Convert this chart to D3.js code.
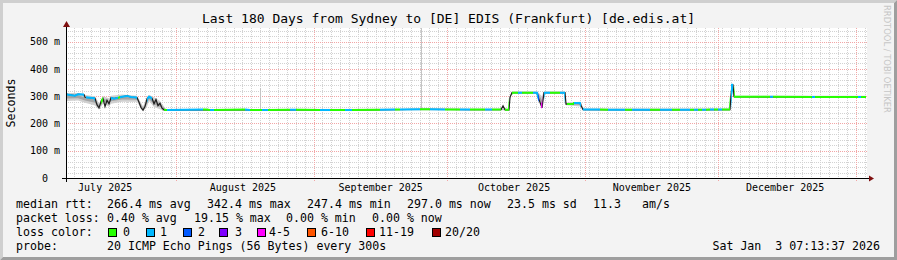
<!DOCTYPE html>
<html>
<head>
<meta charset="utf-8">
<script src="https://cdn.jsdelivr.net/npm/d3@7/dist/d3.min.js"></script>
<style>
  body { margin: 0; background: #f3f3f3; }
  svg { display: block; }
  text { font-family: "DejaVu Sans Mono", monospace; fill: #000; }
</style>
</head>
<body>
<script>
// values
var title = 'Last 180 Days from Sydney to [DE] EDIS (Frankfurt) [de.edis.at]'
var yTicks = [0, 100, 200, 300, 400, 500]
var yTickLabels = ['0', '100 m', '200 m', '300 m', '400 m', '500 m']
var monthLabels = ['July 2025', 'August 2025', 'September 2025', 'October 2025', 'November 2025', 'December 2025']

// median rtt in ms, at days since the start of the 180 day window
var medDays = [0, 2.0, 2.7, 4.05, 4.28, 6.53, 6.98, 7.43, 7.88, 8.33, 8.78, 9.23, 9.68, 10.13, 10.8, 12.6, 13.73, 14.63, 15.98,
  16.43, 16.88, 17.33, 17.78, 18.23, 18.68, 19.35, 19.8, 20.25, 20.7, 21.15, 21.6, 22.05, 22.5, 31.5, 32.85, 40.28, 41.63,
  52.65, 63.9, 81.45, 90.9, 97.88, 98.33, 98.78, 99.68, 99.9, 100.35, 105.98, 106.2, 106.65, 107.1, 107.55, 112.28, 112.5,
  114.08, 114.3, 115.65, 115.88, 116.33, 131.4, 149.4, 149.63, 149.85, 150.08, 150.3, 180]
var medMs = [307, 302, 307, 306, 296, 292, 268, 257, 280, 291, 262, 285, 272, 294, 291, 298, 301, 297, 295,
  278, 258, 249, 262, 290, 298, 293, 272, 288, 265, 274, 256, 250, 249, 251, 249, 251, 249,
  250, 249, 252, 251, 251, 265, 250, 250, 296, 313, 313, 298, 278, 257, 313, 313, 271,
  271, 275, 275, 266, 251, 250, 251, 304, 342, 342, 298, 297]

// loss colour runs: start day of each run and its loss bucket (null = only the dark median shows)
var lossDays = [0, 4.05, 4.5, 6.53, 7.88, 8.33, 10.13, 11.7, 12.15, 15.98, 18.23, 19.35, 22.05, 22.73, 30.83, 32.4, 33.3,
  40.28, 41.4, 44.1, 45.45, 50.4, 51.75, 57.15, 59.4, 62.78, 64.35, 70.65, 74.03, 75.15, 79.65, 81.9, 85.28, 88.65, 90.9,
  94.28, 95.85, 97.88, 98.78, 99.68, 100.35, 101.7, 102.6, 105.08, 106.2, 106.45, 106.9, 107.15, 107.55, 108.9, 111.15, 112.28,
  112.73, 114.3, 115.88, 116.33, 120.15, 121.95, 125.78, 127.35, 131.4, 133.65, 136.35, 138.15, 140.4, 141.3, 142.2,
  143.1, 144.0, 144.9, 145.8, 146.7, 147.6, 149.4, 149.63, 150.08, 150.3, 158.4, 159.08, 167.85, 168.53, 178.2, 178.88]
var lossBucket = [1, null, 1, null, 0, null, 1, 0, 1, null, 1, null, 0, 1, 0, 1, 0,
  1, 0, 1, 0, 1, 0, 1, 0, 1, 0, 1, 0, 1, 0, 1, 0, 1, 0,
  1, 0, null, 0, null, 0, 1, 0, 1, 2, null, 4, null, 1, 0, 1, null,
  0, 1, null, 1, 0, 1, 0, 1, 0, 1, 0, 1, 0, 1, 0,
  1, 0, 1, 0, 1, 0, null, 1, null, 0, 1, 0, 1, 0, 1, 0]

// smoke (spread of the 20 pings), ms
var smokeDays = [0, 2.7, 4.28, 6.53, 7.43, 8.33, 9.68, 10.13, 12.6, 15.98, 16.88, 17.33, 18.23, 18.68, 19.8, 21.15, 22.05,
  22.5, 97.88, 99.68, 99.9, 100.35, 105.98, 107.1, 107.55, 112.28, 112.5, 115.88, 116.33, 149.4, 149.63, 149.85, 150.3, 180]
var smokeLo = [282, 284, 276, 266, 250, 272, 262, 272, 280, 280, 255, 244, 262, 282, 260, 252, 246,
  247, 248, 248, 290, 309, 309, 254, 309, 309, 267, 262, 248, 248, 300, 338, 294, 294]
var smokeHi = [312, 312, 304, 300, 274, 300, 292, 302, 306, 302, 276, 262, 298, 305, 296, 282, 262,
  253, 254, 254, 300, 318, 318, 300, 318, 318, 277, 280, 255, 255, 310, 346, 302, 302]
var spikeDays = [43.65, 79.88]
var spikeMs = [330, 600]

var lossLabels = ['0', '1', '2', '3', '4-5', '6-10', '11-19', '20/20']
var lossColors = ['#26ff00', '#00b8ff', '#0059ff', '#7e00ff', '#ff00ff', '#ff5500', '#ff0000', '#a10000']

var rttStats = ['266.4 ms avg', '342.4 ms max', '247.4 ms min', '297.0 ms now', '23.5 ms sd', '11.3', 'am/s']
var lossStats = ['0.40 % avg', '19.15 % max', '0.00 % min', '0.00 % now']
var probeText = '20 ICMP Echo Pings (56 Bytes) every 300s'
var stamp = 'Sat Jan  3 07:13:37 2026'

var W = 897, H = 260
var svg = d3.select('body').append('svg').attr('width', W).attr('height', H)

// background + shaded frame
svg.append('rect').attr('width', W).attr('height', H).attr('fill', '#f3f3f3')
svg.append('path').attr('d', 'M0,0H897L894,3H3V257L0,260Z').attr('fill', '#cfcfcf')
svg.append('path').attr('d', 'M897,0V260H0L3,257H894V3Z').attr('fill', '#9e9e9e')

var X0 = 66, X1 = 866, Y0 = 178, Y1 = 28
var t0 = Date.UTC(2025, 6, 7, 7, 13, 37), t1 = Date.UTC(2026, 0, 3, 7, 13, 37), DAY = 864e5
var x = d3.scaleUtc().domain([new Date(t0), new Date(t1)]).range([X0, X1])
var xd = function (d) { return x(new Date(t0 + d * DAY)) }
var y = d3.scaleLinear().domain([0, 550]).range([Y0, Y1])
var px = function (v) { return Math.round(v) + 0.5 }

svg.append('rect').attr('x', X0).attr('y', Y1).attr('width', X1 - X0 + 1).attr('height', Y0 - Y1).attr('fill', '#fff')

// grid
var grid = svg.append('g').attr('stroke-dasharray', '1,1').attr('stroke-width', 1)
var minorX = d3.range(Date.UTC(2025, 6, 9), t1, 2 * DAY)
var majorX = d3.utcMonth.range(new Date(t0), new Date(t1))
var minorY = d3.range(20, 550, 20).filter(function (v) { return v % 100 })
var majorY = yTicks.filter(function (v) { return v > 0 })

grid.selectAll('.mx').data(minorX).join('line')
  .attr('x1', function (d) { return px(x(new Date(d))) }).attr('x2', function (d) { return px(x(new Date(d))) })
  .attr('y1', Y1).attr('y2', Y0 + 2).attr('stroke', '#d2d2d2')
grid.selectAll('.my').data(minorY).join('line')
  .attr('x1', X0).attr('x2', X1 + 1)
  .attr('y1', function (d) { return px(y(d)) }).attr('y2', function (d) { return px(y(d)) }).attr('stroke', '#d2d2d2')
var mgrid = svg.append('g').attr('stroke-dasharray', '1,1').attr('stroke', '#f2a6a6')
mgrid.selectAll('line.v').data(majorX).join('line')
  .attr('x1', function (d) { return px(x(d)) }).attr('x2', function (d) { return px(x(d)) })
  .attr('y1', Y1).attr('y2', Y0 + 4)
mgrid.selectAll('line.h').data(majorY).enter().append('line')
  .attr('x1', X0).attr('x2', X1 + 1)
  .attr('y1', function (d) { return px(y(d)) }).attr('y2', function (d) { return px(y(d)) })

// data
var defs = svg.append('defs')
defs.append('clipPath').attr('id', 'plot').append('rect')
  .attr('x', X0 + 1).attr('y', Y1).attr('width', X1 - X0).attr('height', Y0 - Y1)
var plot = svg.append('g').attr('clip-path', 'url(#plot)')

var smoke = smokeDays.map(function (d, i) { return [d, smokeLo[i], smokeHi[i]] })
var area = d3.area().x(function (d) { return xd(d[0]) })
plot.append('path').datum(smoke).attr('fill', '#cfcfcf')
  .attr('d', area.y0(function (d) { return y(d[1]) }).y1(function (d) { return y(d[2]) }))
plot.append('path').datum(smoke).attr('fill', '#a4a4a4')
  .attr('d', area.y0(function (d) { return y(d[1] + (d[2] - d[1]) * 0.3) }).y1(function (d) { return y(d[2] - (d[2] - d[1]) * 0.3) }))

var med = medDays.map(function (d, i) { return [d, medMs[i]] })
var medAt = function (d) { var i = d3.bisectRight(medDays, d) - 1; return medMs[Math.max(0, i)] }
plot.selectAll('.spike').data(spikeDays).join('line')
  .attr('x1', function (d) { return px(xd(d)) }).attr('x2', function (d) { return px(xd(d)) })
  .attr('y1', function (d) { return y(medAt(d)) }).attr('y2', function (d, i) { return y(spikeMs[i]) })
  .attr('stroke', '#c4c4c4')

var line = d3.line().x(function (d) { return xd(d[0]) }).y(function (d) { return y(d[1]) })
plot.append('path').datum(med).attr('d', line).attr('fill', 'none').attr('stroke', '#202020').attr('stroke-width', 1.2)

lossDays.forEach(function (d0, i) {
  var b = lossBucket[i]
  if (b === null) return
  var d1 = i + 1 < lossDays.length ? lossDays[i + 1] : 180
  defs.append('clipPath').attr('id', 'run' + i).append('rect')
    .attr('x', xd(d0)).attr('y', Y1).attr('width', xd(d1) - xd(d0)).attr('height', Y0 - Y1)
  plot.append('path').datum(med).attr('d', line).attr('fill', 'none')
    .attr('stroke', lossColors[b]).attr('stroke-width', 2).attr('clip-path', 'url(#run' + i + ')')
})

// axes
svg.append('line').attr('x1', X0 - 4).attr('x2', X1 + 3).attr('y1', Y0 + 0.5).attr('y2', Y0 + 0.5).attr('stroke', '#000')
svg.append('line').attr('x1', X0 + 0.5).attr('x2', X0 + 0.5).attr('y1', Y0 + 4).attr('y2', Y1 - 2).attr('stroke', '#000')
svg.append('path').attr('d', 'M' + (X1 + 3) + ',' + (Y0 - 2.5) + 'l5,3l-5,3z').attr('fill', '#7f1010')
svg.append('path').attr('d', 'M' + (X0 - 3) + ',' + (Y1 - 1) + 'l3.5,-6l3.5,6z').attr('fill', '#7f1010')

var monthMids = d3.utcMonth.range(d3.utcMonth.floor(new Date(t0)), new Date(t1))
  .map(function (m) { return d3.utcDay.offset(m, 15) }).slice(0, monthLabels.length)
var xAxis = svg.append('g').attr('transform', 'translate(0,' + Y0 + ')')
  .call(d3.axisBottom(x).tickValues(monthMids).tickSize(0).tickPadding(6)
    .tickFormat(function (d, i) { return monthLabels[i] }))
xAxis.select('.domain').remove()
xAxis.selectAll('text').attr('font-family', '"DejaVu Sans Mono"').attr('font-size', 10).attr('fill', '#000')

var yAxis = svg.append('g').attr('transform', 'translate(' + X0 + ',0)')
  .call(d3.axisLeft(y).tickValues(yTicks).tickSize(0).tickPadding(6)
    .tickFormat(function (d, i) { return yTickLabels[i] }))
yAxis.select('.domain').remove()
yAxis.selectAll('text').attr('font-family', '"DejaVu Sans Mono"').attr('font-size', 10).attr('fill', '#000')
  .attr('dx', function (d, i) { return yTickLabels[i].indexOf(' ') < 0 ? -12 : 0 })

// titles
svg.append('text').attr('x', W / 2).attr('y', 23).attr('text-anchor', 'middle').attr('font-size', 13).text(title)
svg.append('text').attr('transform', 'translate(15,103) rotate(-90)').attr('text-anchor', 'middle')
  .attr('font-size', 11.6).text('Seconds')
svg.append('text').attr('transform', 'translate(884,5) rotate(90)')
  .style('font-family', '"DejaVu Sans"').attr('font-size', 8.4).style('fill', '#c6c6c6').text('RRDTOOL / TOBI OETIKER')

// legend
var lg = svg.append('g').attr('font-size', 11.6)
var txt = function (xx, yy, s) { return lg.append('text').attr('xml:space', 'preserve').attr('x', xx).attr('y', yy).text(s) }
var row = [208, 222, 236, 250]
txt(16, row[0], 'median rtt:')
var rttX = [107, 207, 307, 407, 507, 593, 642]
rttStats.forEach(function (s, i) { txt(rttX[i], row[0], s) })
txt(16, row[1], 'packet loss:')
var lossX = [107, 194, 286, 372]
lossStats.forEach(function (s, i) { txt(lossX[i], row[1], s) })
txt(16, row[2], 'loss color:')
var boxX = [108, 146, 183, 219, 257, 307, 366, 432]
var labX = [123, 160, 198, 235, 269, 321, 379, 445]
lossLabels.forEach(function (s, i) {
  lg.append('rect').attr('x', boxX[i] + 0.5).attr('y', row[2] - 7.5).attr('width', 8).attr('height', 8)
    .attr('fill', lossColors[i]).attr('stroke', '#000')
  txt(labX[i], row[2], s)
})
txt(16, row[3], 'probe:')
txt(107, row[3], probeText)
txt(880, row[3], stamp).attr('text-anchor', 'end')
</script>
</body>
</html>
